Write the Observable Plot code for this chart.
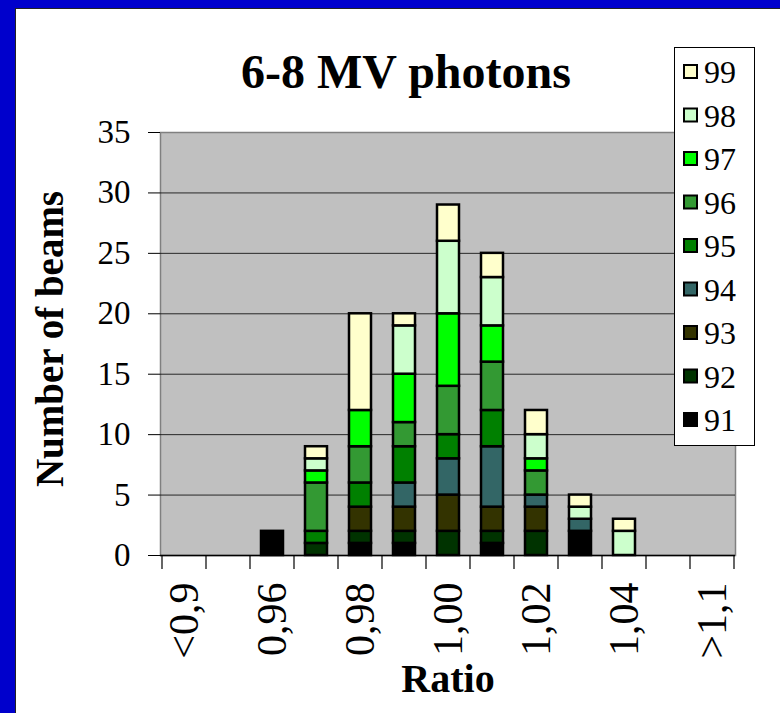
<!DOCTYPE html>
<html><head><meta charset="utf-8">
<script src="https://cdn.jsdelivr.net/npm/d3@7"></script>
<script src="https://cdn.jsdelivr.net/npm/@observablehq/plot@0.6"></script>
<style>
html,body{margin:0;padding:0;width:780px;height:713px;overflow:hidden;background:#0000cc;}
#page{position:absolute;left:15px;top:8px;width:765px;height:705px;background:#fff;border-left:1px solid #222;border-top:1px solid #222;box-sizing:border-box;}
#chart{position:absolute;left:0;top:0;}
</style></head><body><div id="page"></div><div id="chart"></div>
<script>
const categories = ["<0,9","0,95","0,96","0,97","0,98","0,99","1,00","1,01","1,02","1,03","1,04","1,05",">1,1"];
const tickLabels = ["<0,9","","0,96","","0,98","","1,00","","1,02","","1,04","",">1,1"];
const seriesNames = ["91","92","93","94","95","96","97","98","99"];
const seriesColors = ["#000000","#003300","#333300","#336666","#008000","#339933","#00ff00","#ccffcc","#ffffcc"];
const s91 = [0,0,2,0,1,1,0,1,0,2,0,0,0];
const s92 = [0,0,0,1,1,1,2,1,2,0,0,0,0];
const s93 = [0,0,0,0,2,2,3,2,2,0,0,0,0];
const s94 = [0,0,0,0,0,2,3,5,1,1,0,0,0];
const s95 = [0,0,0,1,2,3,2,3,0,0,0,0,0];
const s96 = [0,0,0,4,3,2,4,4,2,0,0,0,0];
const s97 = [0,0,0,1,3,4,6,3,1,0,0,0,0];
const s98 = [0,0,0,1,0,4,6,4,2,1,2,0,0];
const s99 = [0,0,0,1,8,1,3,2,2,1,1,0,0];
const yTicks = [0,5,10,15,20,25,30,35];
const titleText = "6-8 MV photons";
const yLabel = "Number of beams";
const xLabel = "Ratio";

const seriesValues = [s91,s92,s93,s94,s95,s96,s97,s98,s99];
const data = [];
seriesNames.forEach((s,i)=>categories.forEach((c,j)=>{
  const v = seriesValues[i][j];
  if (v > 0) data.push({category:c, series:s, value:v});
}));

const serif = "'Liberation Serif','Times New Roman',serif";

const chart = Plot.plot({
  width:780, height:713,
  marginLeft:160, marginRight:45, marginTop:132, marginBottom:158,
  style:{background:"transparent", fontFamily:serif, color:"#000", overflow:"visible"},
  x:{type:"band", domain:categories, paddingInner:0.5, paddingOuter:0.25, label:null},
  y:{domain:[0,35], label:null},
  color:{domain:seriesNames, range:seriesColors},
  marks:[
    Plot.frame({fill:"#c0c0c0", stroke:"#808080", strokeWidth:1.5}),
    Plot.gridY(yTicks.filter(t=>t>0 && t<35), {stroke:"#000", strokeOpacity:0.8}),
    Plot.barY(data, {x:"category", y:"value", fill:"series", stroke:"#000", strokeWidth:2.5}),
    Plot.ruleY([0], {stroke:"#000", strokeWidth:1.5}),
    Plot.axisY({ticks:yTicks, tickSize:12, tickPadding:18, fontSize:33, label:null, stroke:"#000"}),
    Plot.axisX({tickSize:0, tickPadding:27, tickRotate:-90, fontSize:42, label:null,
      tickFormat:d=>tickLabels[categories.indexOf(d)]}),
    Plot.text([titleText], {text:d=>d, frameAnchor:"top", dx:-42, dy:-60, textAnchor:"middle", lineAnchor:"middle", fontSize:48, fontWeight:"bold"}),
    Plot.text([yLabel], {text:d=>d, frameAnchor:"left", dx:-110, dy:-5, rotate:-90, textAnchor:"middle", lineAnchor:"middle", fontSize:39, fontWeight:"bold"}),
    Plot.text([xLabel], {text:d=>d, frameAnchor:"bottom", dy:124, textAnchor:"middle", lineAnchor:"middle", fontSize:40, fontWeight:"bold"})
  ]
});

// category-boundary tick marks on the x axis, from Plot's x scale
const xs = chart.scale("x");
const ys = chart.scale("y");
const n = categories.length;
const step = xs.step ?? (xs.range[1]-xs.range[0])/n;
const bw = xs.bandwidth;
const pad = (step - bw)/2;
const bounds = categories.map(c => xs.apply(c) - pad).concat([xs.apply(categories[n-1]) + bw + pad]);
const y0 = ys.apply(0);
const svg = d3.select(chart);
svg.append("g").attr("stroke","#000").attr("stroke-width",1.2)
  .selectAll("line").data(bounds).join("line")
  .attr("x1",d=>d).attr("x2",d=>d).attr("y1",y0).attr("y2",y0+14);

// legend, drawn with Plot's color scale
const color = chart.scale("color");
const legendNames = seriesNames.slice().reverse();
const lg = svg.append("g").attr("font-family", serif).attr("font-size", 32).attr("text-anchor","start");
lg.append("rect").attr("x",674.5).attr("y",47.5).attr("width",80).attr("height",398)
  .attr("fill","#fff").attr("stroke","#000");
legendNames.forEach((s,i)=>{
  const cy = 72 + i*43.5;
  lg.append("rect").attr("x",684).attr("y",cy-7).attr("width",13).attr("height",13)
    .attr("fill",color.apply(s)).attr("stroke","#000").attr("stroke-width",2);
  lg.append("text").attr("x",704).attr("y",cy).attr("dy","0.35em").attr("fill","#000").text(s);
});

document.getElementById("chart").appendChild(chart);
</script>
</body></html>
